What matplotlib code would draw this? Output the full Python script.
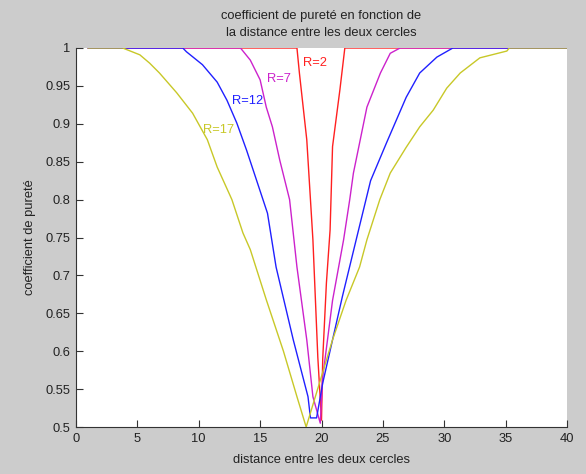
import matplotlib
matplotlib.use("Agg")
import matplotlib.pyplot as plt

# Purity coefficient versus distance between the two circles, one curve per radius
x_r2 = [1, 18.0, 18.2, 18.8, 19.1, 19.3, 19.7, 20.0, 20.1, 20.4, 20.7, 20.9, 21.5, 21.9, 40]
y_r2 = [1, 1, 0.967, 0.879, 0.80, 0.747, 0.592, 0.509, 0.59, 0.69, 0.76, 0.87, 0.945, 1, 1]

x_r7 = [1, 13.4, 14.2, 15.0, 15.5, 16.0, 16.6, 17.4, 18.0, 18.8, 19.3, 19.9,
        20.1, 20.9, 21.8, 22.3, 22.6, 23.7, 24.8, 25.6, 26.4, 40]
y_r7 = [1, 1, 0.984, 0.958, 0.922, 0.896, 0.852, 0.80, 0.711, 0.615, 0.54, 0.505,
        0.566, 0.667, 0.747, 0.80, 0.835, 0.922, 0.967, 0.993, 1, 1]

x_r12 = [1, 8.7, 9.0, 10.3, 11.5, 12.3, 13.1, 13.9, 14.7, 15.6, 16.3, 17.7, 18.9, 19.1,
         19.6, 20.1, 21.7, 22.9, 24.0, 25.3, 26.1, 26.9, 28.0, 29.4, 30.7, 40]
y_r12 = [1, 1, 0.995, 0.978, 0.955, 0.931, 0.901, 0.865, 0.826, 0.782, 0.711, 0.615, 0.54, 0.512,
         0.512, 0.558, 0.672, 0.752, 0.825, 0.875, 0.905, 0.935, 0.967, 0.988, 1, 1]

x_r17 = [1, 3.8, 5.2, 6.0, 6.8, 8.2, 9.5, 10.7, 11.5, 12.7, 13.6, 14.2, 15.5, 16.9, 18.0, 18.75,
         20.9, 22.0, 23.1, 23.7, 24.75, 25.6, 26.9, 28.0, 29.1, 30.2, 31.3, 32.9, 35.1, 35.3, 40]
y_r17 = [1, 1, 0.991, 0.980, 0.967, 0.941, 0.914, 0.879, 0.843, 0.80, 0.756, 0.734, 0.668, 0.60,
         0.54, 0.50, 0.615, 0.667, 0.711, 0.747, 0.80, 0.835, 0.869, 0.896, 0.918, 0.947, 0.967,
         0.987, 0.996, 1, 1]

labels = ["R=2", "R=7", "R=12", "R=17"]
label_x = [18.5, 15.6, 12.7, 10.35]
label_y = [0.98, 0.959, 0.930, 0.892]
colors = ["#ff2020", "#cc22cc", "#2020ff", "#c8c828"]

x_ticks = list(range(0, 41, 5))
y_ticks = [0.5, 0.55, 0.6, 0.65, 0.7, 0.75, 0.8, 0.85, 0.9, 0.95, 1.0]
y_tick_labels = ["0.5", "0.55", "0.6", "0.65", "0.7", "0.75", "0.8", "0.85", "0.9", "0.95", "1"]

plt.rcParams['font.family'] = ['Liberation Sans', 'DejaVu Sans']

fig = plt.figure(figsize=(5.86, 4.74), dpi=100, facecolor="#cccccc")
ax = fig.add_axes([76 / 586, 1 - 427 / 474, (567 - 76) / 586, (427 - 48) / 474])
ax.set_facecolor("white")

series = [(x_r2, y_r2), (x_r7, y_r7), (x_r12, y_r12), (x_r17, y_r17)]
for (xs, ys), c in zip(series, colors):
    ax.plot(xs, ys, color=c, linewidth=1.0, clip_on=True)

for lab, lx, ly, c in zip(labels, label_x, label_y, colors):
    ax.text(lx, ly, lab, color=c, fontsize=9.3, ha="left", va="center")

ax.set_xlim(0, 40)
ax.set_ylim(0.5, 1)
ax.set_xticks(x_ticks)
ax.set_yticks(y_ticks)
ax.set_yticklabels(y_tick_labels)
ax.tick_params(direction="in", length=5, width=0.8, colors="#333333",
               labelcolor="#222222", labelsize=9.3, pad=4)
for side in ("top", "right"):
    ax.spines[side].set_visible(False)
for side in ("left", "bottom"):
    ax.spines[side].set_color("#333333")
    ax.spines[side].set_linewidth(0.8)

ax.set_xlabel("distance entre les deux cercles", fontsize=9.3, color="#222222", labelpad=7)
ax.set_ylabel("coefficient de pureté", fontsize=9.3, color="#222222", labelpad=7)
ax.set_title("coefficient de pureté en fonction de\nla distance entre les deux cercles",
             fontsize=9.3, color="#222222", pad=9, linespacing=1.45)

fig.savefig("out.png", dpi=100, facecolor=fig.get_facecolor())
